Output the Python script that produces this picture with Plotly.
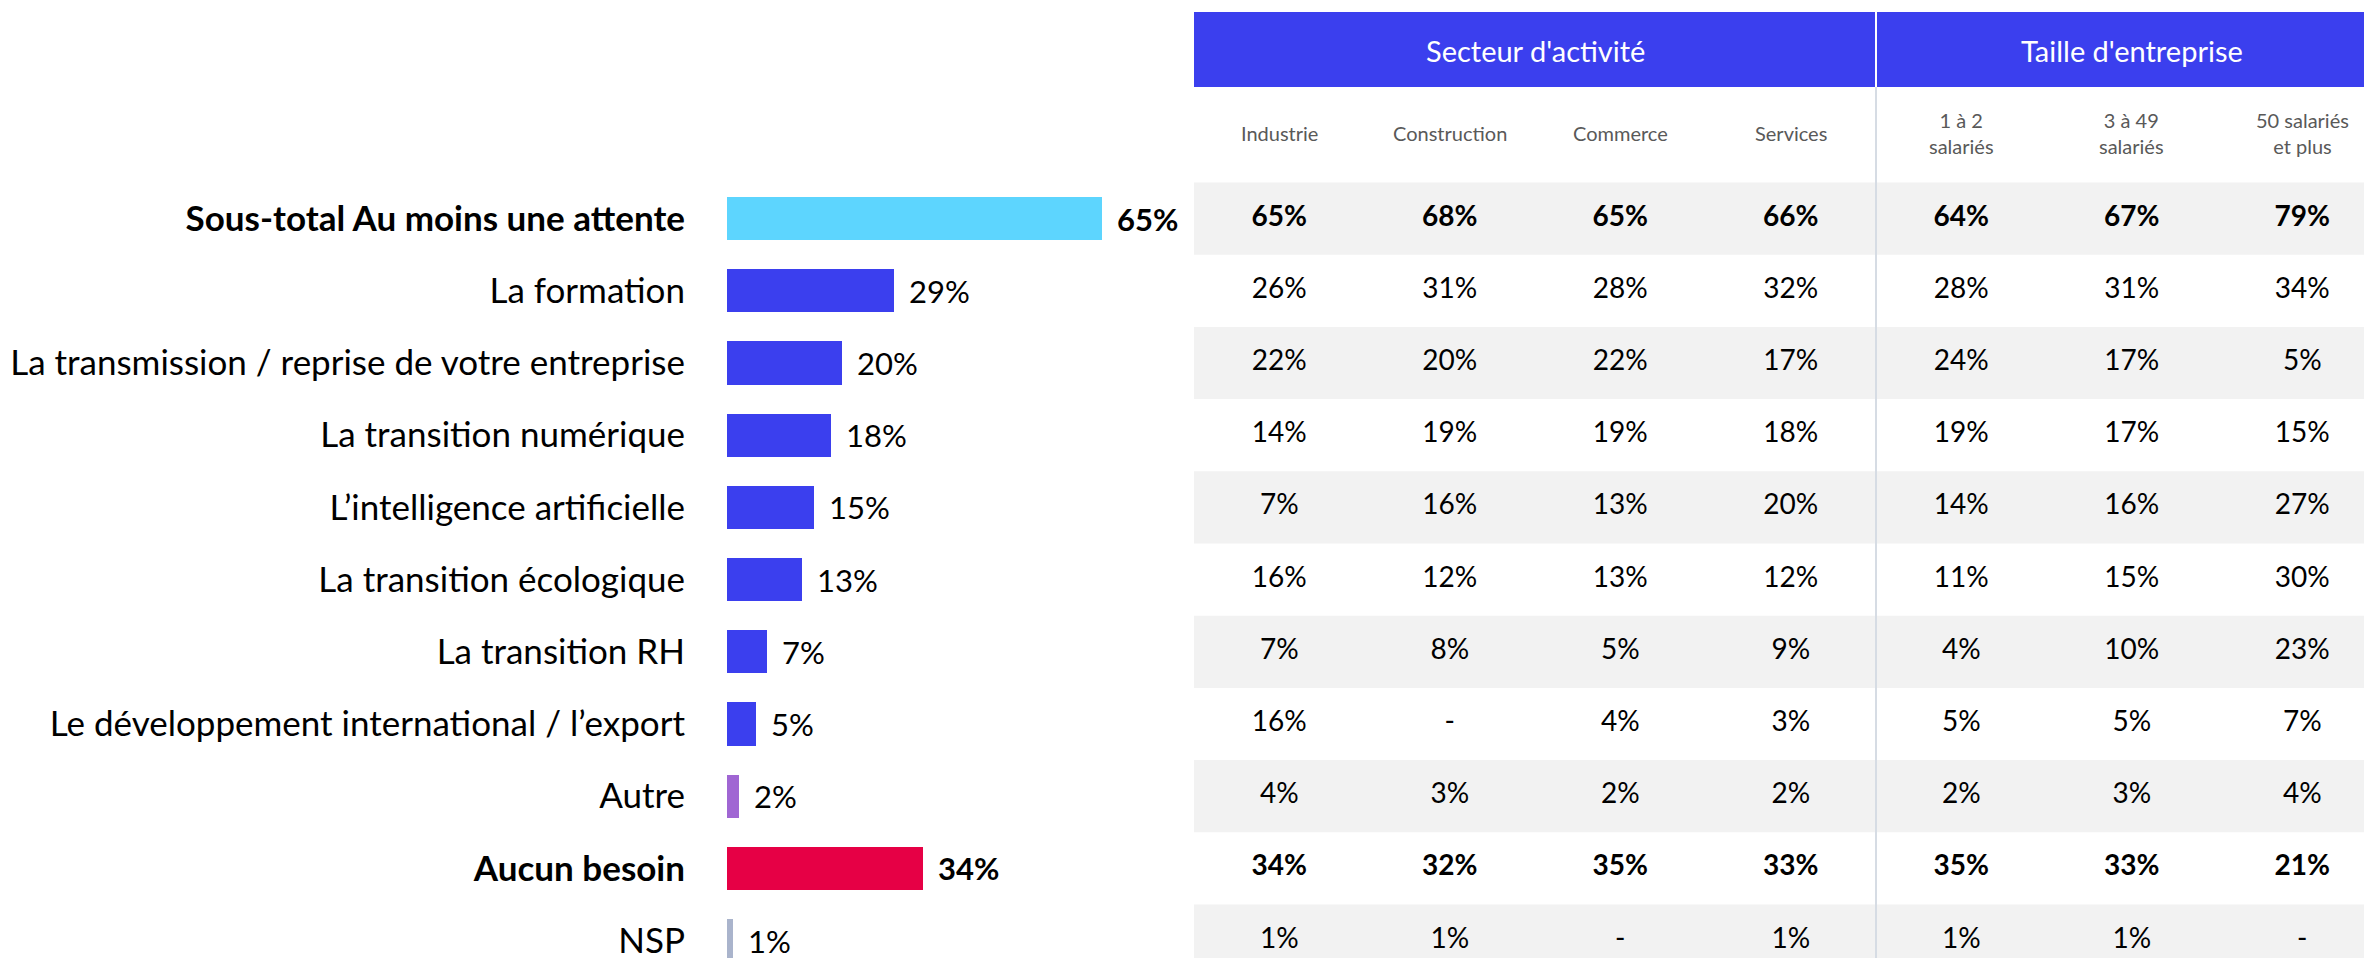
import plotly.graph_objects as go

# --- data -------------------------------------------------------------
categories = [
    "Sous-total Au moins une attente",
    "La formation",
    "La transmission / reprise de votre entreprise",
    "La transition numérique",
    "L’intelligence artificielle",
    "La transition écologique",
    "La transition RH",
    "Le développement international / l’export",
    "Autre",
    "Aucun besoin",
    "NSP",
]
totals = [65, 29, 20, 18, 15, 13, 7, 5, 2, 34, 1]
bold_rows = [0, 9]

groups = ["Secteur d'activité", "Taille d'entreprise"]
columns = ["Industrie", "Construction", "Commerce", "Services",
           "1 à 2<br>salariés", "3 à 49<br>salariés", "50 salariés<br>et plus"]

industrie = [65, 26, 22, 14, 7, 16, 7, 16, 4, 34, 1]
construction = [68, 31, 20, 19, 16, 12, 8, None, 3, 32, 1]
commerce = [65, 28, 22, 19, 13, 13, 5, 4, 2, 35, None]
services = [66, 32, 17, 18, 20, 12, 9, 3, 2, 33, 1]
taille_1_2 = [64, 28, 24, 19, 14, 11, 4, 5, 2, 35, 1]
taille_3_49 = [67, 31, 17, 17, 16, 15, 10, 5, 3, 33, 1]
taille_50 = [79, 34, 5, 15, 27, 30, 23, 7, 4, 21, None]
table = [industrie, construction, commerce, services, taille_1_2, taille_3_49, taille_50]

# --- styling ----------------------------------------------------------
W, H = 2364, 958
FONT = "Lato"
BLUE = "#3B3FEE"
bar_colors = ["#5DD5FE"] + [BLUE] * 7 + ["#A066D3", "#E60045", "#AAB4CC"]

ROW0, ROW_H = 218.6, 72.2          # pixel centre of first row, row pitch
COL0, COL_W = 1279.25, 170.5       # pixel centre of first table column, pitch
TABLE_LEFT = 1194


def ypx(p):
    """pixel -> row coordinate"""
    return (p - ROW0) / ROW_H


rows = list(range(len(categories)))
ticktext = [f"<b>{c}</b>" if i in bold_rows else c for i, c in enumerate(categories)]

fig = go.Figure()

# gray bands of the table
shapes = []
for i in rows:
    if i % 2 == 0:
        shapes.append(dict(type="rect", xref="x2", yref="y", x0=-0.5, x1=7, y0=i - 0.5, y1=i + 0.5,
                           fillcolor="#F2F2F2", line_width=0, layer="below"))
# header band
shapes.append(dict(type="rect", xref="x2", yref="y", x0=-0.5, x1=7, y0=ypx(12), y1=ypx(87),
                   fillcolor=BLUE, line_width=0, layer="below"))
# separators
shapes.append(dict(type="line", xref="x2", yref="y", x0=3.5, x1=3.5, y0=ypx(12), y1=ypx(87),
                   line=dict(color="white", width=2)))
shapes.append(dict(type="line", xref="x2", yref="y", x0=3.5, x1=3.5, y0=ypx(87), y1=len(rows),
                   line=dict(color="#D6DCE4", width=2)))

fig.add_trace(go.Bar(
    x=totals, y=rows, orientation="h", width=0.6,
    marker=dict(color=bar_colors, line_width=0),
    showlegend=False, hoverinfo="skip",
))

annotations = []
for i, v in enumerate(totals):
    txt = f"{v}%"
    if i in bold_rows:
        txt = f"<b>{txt}</b>"
    annotations.append(dict(x=v, y=i, xref="x", yref="y", text=txt, showarrow=False,
                            xanchor="left", xshift=13, font=dict(family=FONT, size=31, color="black")))

# table values
for j, col in enumerate(table):
    texts = []
    for i, v in enumerate(col):
        t = "-" if v is None else f"{v}%"
        texts.append(f"<b>{t}</b>" if i in bold_rows else t)
    fig.add_trace(go.Scatter(
        x=[j] * len(col), y=rows, mode="text", text=texts,
        textfont=dict(family=FONT, size=28, color="black"),
        xaxis="x2", yaxis="y", showlegend=False, hoverinfo="skip", cliponaxis=False,
    ))

# column headers
for j, c in enumerate(columns):
    annotations.append(dict(x=j, y=ypx(133), xref="x2", yref="y", text=c, showarrow=False,
                            font=dict(family=FONT, size=20, color="#595959"), align="center"))

# group headers
annotations.append(dict(x=1.5, y=ypx(50), xref="x2", yref="y", text=groups[0], showarrow=False,
                        font=dict(family=FONT, size=29, color="white")))
annotations.append(dict(x=5, y=ypx(50), xref="x2", yref="y", text=groups[1], showarrow=False,
                        font=dict(family=FONT, size=29, color="white")))

fig.update_layout(
    width=W, height=H,
    margin=dict(l=0, r=0, t=0, b=0, pad=0),
    paper_bgcolor="white", plot_bgcolor="rgba(0,0,0,0)",
    font=dict(family=FONT, color="black"),
    bargap=0,
    shapes=shapes,
    annotations=annotations,
    xaxis=dict(domain=[727 / W, 1304 / W], range=[0, 100], visible=False, fixedrange=True,
               automargin=False),
    xaxis2=dict(domain=[TABLE_LEFT / W, 1], range=[-0.5, (W - COL0) / COL_W], visible=False,
                anchor="y", fixedrange=True, automargin=False),
    yaxis=dict(range=[(H - ROW0) / ROW_H, -ROW0 / ROW_H], tickvals=rows, ticktext=ticktext,
               showgrid=False, zeroline=False, showline=False, ticks="",
               ticklabelstandoff=41, ticklabeloverflow="allow", automargin=False,
               tickfont=dict(family=FONT, size=35, color="black"),
               fixedrange=True),
)

# drop the default body margin so the figure fills the window exactly
fig.write_html("out.html", config={"displayModeBar": False},
               post_script="document.body.style.margin='0';document.body.style.overflow='hidden';")
